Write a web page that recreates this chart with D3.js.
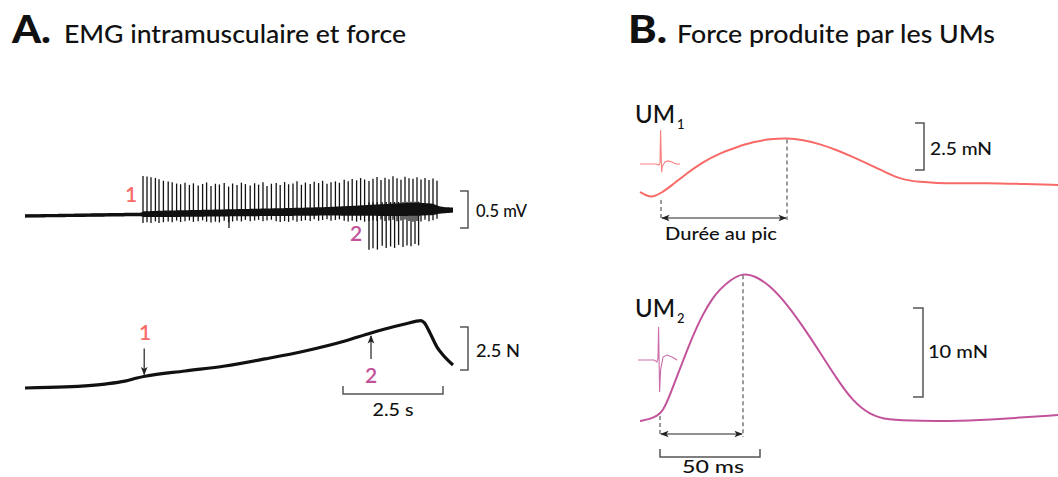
<!DOCTYPE html>
<html><head><meta charset="utf-8">
<script src="https://cdn.jsdelivr.net/npm/d3@7"></script>
<style>html,body{margin:0;padding:0;background:#fff;} svg{display:block;}</style>
</head><body>
<svg id="chart" width="1058" height="477"></svg>
<script>
// ================= DATA =================
const panelLetters = ["A.", "B."];
const panelTitles = ["EMG intramusculaire et force", "Force produite par les UMs"];

// ---- Panel A : EMG (time in s, voltage in mV) ----
const emgDriftT = [0, 10.7];
const emgDriftV = [0, 0.08];
const emgNoiseT    = [0, 2.9, 2.95, 3.5, 4.5, 5.5, 6.5, 7.5, 8.3, 8.8, 9.3, 9.8, 10.2, 10.35, 10.5, 10.7];
const emgNoiseUp   = [0.022, 0.024, 0.040, 0.047, 0.050, 0.054, 0.058, 0.064, 0.078, 0.090, 0.100, 0.108, 0.090, 0.054, 0.041, 0.034];
const emgNoiseDown = [0.022, 0.024, 0.036, 0.040, 0.042, 0.044, 0.048, 0.050, 0.058, 0.064, 0.070, 0.070, 0.064, 0.047, 0.041, 0.034];
// motor unit 1 discharges (upward spikes)
const mu1SpikeT = [2.95, 3.05, 3.15, 3.26, 3.35, 3.46, 3.58, 3.68, 3.79, 3.89, 4.00, 4.11, 4.21, 4.33, 4.44, 4.54, 4.65, 4.76,
  4.86, 4.98, 5.09, 5.19, 5.30, 5.41, 5.51, 5.63, 5.74, 5.84, 5.95, 6.05, 6.16, 6.28, 6.38, 6.49, 6.59, 6.70, 6.80, 6.91,
  7.01, 7.13, 7.23, 7.34, 7.44, 7.55, 7.65, 7.76, 7.86, 7.98, 8.08, 8.18, 8.29, 8.39, 8.49, 8.60, 8.70, 8.80, 8.90,
  9.00, 9.10, 9.20, 9.30, 9.40, 9.50, 9.60, 9.70, 9.80, 9.90, 10.00, 10.10, 10.20, 10.30];
const mu1SpikeAmp = [0.52, 0.51, 0.50, 0.49, 0.47, 0.45, 0.44, 0.43,
  0.41, 0.40, 0.42, 0.39, 0.41, 0.38, 0.40, 0.42, 0.37, 0.40, 0.39, 0.41, 0.36, 0.40, 0.38, 0.41, 0.39, 0.37, 0.40, 0.38,
  0.41, 0.36, 0.39, 0.40, 0.37, 0.41, 0.38, 0.39, 0.42, 0.37, 0.40, 0.38, 0.41, 0.39, 0.42, 0.38, 0.40, 0.41, 0.39,
  0.43, 0.41, 0.44, 0.42, 0.45, 0.43, 0.41, 0.44, 0.46, 0.42, 0.45, 0.43, 0.47, 0.44, 0.42, 0.46, 0.44, 0.43, 0.45, 0.42,
  0.44, 0.41, 0.43, 0.40];
const mu1SpikeNeg = [0.08, 0.07, 0.08, 0.06, 0.08, 0.07, 0.06, 0.07, 0.05, 0.07, 0.06, 0.05, 0.07, 0.06, 0.05, 0.07];
// motor unit 2 discharges (downward spikes)
const mu2SpikeT   = [8.60, 8.70, 8.81, 8.93, 9.03, 9.14, 9.24, 9.34, 9.45, 9.55, 9.65, 9.75, 9.84];
const mu2SpikeAmp = [0.52, 0.50, 0.52, 0.47, 0.50, 0.48, 0.50, 0.46, 0.49, 0.47, 0.48, 0.45, 0.47];
const emgArtefactT = [5.1];
const emgArtefactAmp = [0.2];

// ---- Panel A : force (time in s, force in N) ----
const forceAT = [0, 1, 2, 2.5, 2.8, 3, 4, 5, 6, 7, 8, 8.65, 9, 9.5, 9.9, 9.98, 10.125, 10.3, 10.45, 10.7];
const forceAN = [0, 0.06, 0.23, 0.40, 0.58, 0.68, 0.99, 1.28, 1.69, 2.15, 2.73, 3.20, 3.43, 3.72, 3.92, 3.80, 3.20, 2.38, 1.92, 1.34];
const markerT = [2.98, 8.65];          // recruitment of UM1 / UM2
const markerLabels = ["1", "2"];

// ---- Panel B : twitch of UM1 (ms, mN) ----
const um1T = [-10.5, -7, -4, 0, 4.5, 13, 21, 29.5, 38, 46, 54.5, 63, 71, 79.5, 88, 96, 104.5, 113, 121, 129.5, 138, 146, 163, 179.5, 198.5];
const um1F = [0, -0.21, -0.27, -0.06, 0.27, 1.01, 1.60, 2.07, 2.39, 2.66, 2.82, 2.87, 2.77, 2.55, 2.23, 1.86, 1.44, 1.01, 0.64, 0.53, 0.48, 0.46, 0.48, 0.43, 0.37];
const um1PeakT = 63;
// ---- Panel B : twitch of UM2 (ms, mN) ----
const um2T = [-10, -5, -1.5, 1.5, 5, 9, 13.5, 17.5, 21.5, 26, 30, 35.5, 41.5, 47.5, 55, 63.5, 71.5, 80, 88.5, 96.5, 105, 113.5, 130, 150, 170, 199];
const um2F = [-0.11, 0.11, 0.45, 1.01, 2.81, 5.2, 7.8, 10.0, 11.9, 13.6, 14.7, 15.8, 16.5, 16.2, 15.1, 13.0, 10.5, 7.6, 4.6, 2.1, 0.6, 0, -0.11, -0.11, 0.11, 0.56];
const um2PeakT = 41.5;
// inset action potentials (relative units)
const ap1T = [0, 8, 9.5, 10, 10.3, 10.8, 11.2, 12.5, 14, 16, 18, 20];
const ap1V = [0, 0, -0.03, 0.03, 1, -0.24, -0.06, 0.06, 0.09, 0.06, 0, 0];
const ap2T = [0, 8, 9.5, 10, 10.3, 10.8, 11.3, 12.5, 14.5, 17, 19.5];
const ap2V = [0, 0, -0.06, 0.06, 1, -0.97, -0.3, 0.09, 0.15, 0.09, 0];

// scale bar labels
const scaleLabels = { emg: "0.5 mV", forceA: "2.5 N", timeA: "2.5 s", um1: "2.5 mN", um2: "10 mN", timeB: "50 ms", peak: "Durée au pic" };
const scaleValues = { emg: 0.5, forceA: 2.5, timeA: 2.5, um1: 2.5, um2: 10, timeB: 50 };

// ================= DRAW =================
const RED = "#f86a68", PURPLE = "#c2539b", GRAY = "#555", FONT = "Lato, 'Noto Sans', sans-serif";
const svg = d3.select("#chart");
svg.append("rect").attr("width", 1058).attr("height", 477).attr("fill", "#fff");

const defs = svg.append("defs");
function mk(id, color) {
  defs.append("marker").attr("id", id).attr("viewBox", "0 0 10 10").attr("refX", 9).attr("refY", 5)
    .attr("markerWidth", 7).attr("markerHeight", 7).attr("orient", "auto-start-reverse")
    .append("path").attr("d", "M0,1 L10,5 L0,9 L2.5,5 Z").attr("fill", color);
}
mk("arr", "#222");

function txt(s, x, y, size, opt = {}) {
  const t = svg.append("text").attr("x", x).attr("y", y).attr("font-family", FONT)
    .attr("font-size", size).attr("fill", opt.fill || "#111").attr("font-weight", opt.weight || 500)
    .attr("text-anchor", opt.anchor || "start").text(s);
  if (opt.len) t.attr("textLength", opt.len).attr("lengthAdjust", "spacingAndGlyphs");
  return t;
}

// titles
txt(panelLetters[0], 12, 43, 37, { weight: 900, len: 39 });
txt(panelTitles[0], 64, 43, 25, { len: 342 });
txt(panelLetters[1], 628, 43, 37, { weight: 900, len: 39 });
txt(panelTitles[1], 677, 43, 25, { len: 318 });

// ---- Panel A scales ----
const xA = d3.scaleLinear().domain([0, 10.7]).range([25, 453]);
const yEMG = d3.scaleLinear().domain([0, 0.5]).range([216, 179]);
const yFA = d3.scaleLinear().domain([0, 2.5]).range([388, 345]);
const drift = d3.scaleLinear().domain(emgDriftT).range(emgDriftV);
const noiseUp = d3.scaleLinear().domain(emgNoiseT).range(emgNoiseUp);
const noiseDn = d3.scaleLinear().domain(emgNoiseT).range(emgNoiseDown);

// EMG noise band
const bandT = d3.range(0, 10.7001, 0.02);
svg.append("path").datum(bandT)
  .attr("d", d3.area().x(t => xA(t)).y0(t => yEMG(drift(t) - noiseDn(t))).y1(t => yEMG(drift(t) + noiseUp(t))))
  .attr("fill", "#111");
svg.append("path").datum(emgDriftT)
  .attr("d", d3.line().x(t => xA(t)).y(t => yEMG(drift(t))))
  .attr("stroke", "#111").attr("stroke-width", 2.6).attr("fill", "none");

// MU1 spikes
const g1 = svg.append("g").attr("stroke", "#111").attr("stroke-width", 1.3);
mu1SpikeT.forEach((t, i) => {
  const a = mu1SpikeAmp[i] ?? 0.4, b = drift(t);
  const n = mu1SpikeNeg[i % mu1SpikeNeg.length];
  g1.append("line").attr("x1", xA(t)).attr("x2", xA(t))
    .attr("y1", yEMG(b + a)).attr("y2", yEMG(b - noiseDn(t) - n));
});
// MU2 spikes
const g2 = svg.append("g").attr("stroke", "#111").attr("stroke-width", 1.3);
mu2SpikeT.forEach((t, i) => {
  const a = mu2SpikeAmp[i], b = drift(t);
  g2.append("line").attr("x1", xA(t)).attr("x2", xA(t))
    .attr("y1", yEMG(b + 0.12)).attr("y2", yEMG(b - a));
});
emgArtefactT.forEach((t, i) => {
  svg.append("line").attr("x1", xA(t)).attr("x2", xA(t)).attr("y1", yEMG(drift(t)))
    .attr("y2", yEMG(drift(t) - emgArtefactAmp[i])).attr("stroke", "#111").attr("stroke-width", 1.3);
});
txt(markerLabels[0], 125, 202, 21, { fill: RED, weight: 600 });
txt(markerLabels[1], 350, 241, 21, { fill: PURPLE, weight: 600 });

// EMG scale bar
function bracket(x0, x1, yTop, yBot) {
  svg.append("path").attr("d", `M${x0},${yTop} H${x1} V${yBot} H${x0}`)
    .attr("fill", "none").attr("stroke", GRAY).attr("stroke-width", 1.5);
}
{
  const h = yEMG(0) - yEMG(scaleValues.emg);
  bracket(460, 468, 191, 191 + h);
  txt(scaleLabels.emg, 476, 217, 17, { len: 51 });
}

// Force trace A
svg.append("path").datum(forceAT.map((t, i) => [t, forceAN[i]]))
  .attr("d", d3.line().x(d => xA(d[0])).y(d => yFA(d[1])).curve(d3.curveMonotoneX))
  .attr("fill", "none").attr("stroke", "#111").attr("stroke-width", 3.2).attr("stroke-linejoin", "round");
const fInterp = d3.scaleLinear().domain(forceAT).range(forceAN);
// marker arrows
{
  const x1 = xA(markerT[0]), y1 = yFA(fInterp(markerT[0]));
  svg.append("line").attr("x1", x1).attr("x2", x1).attr("y1", y1 - 28).attr("y2", y1 - 2)
    .attr("stroke", "#222").attr("stroke-width", 1.2).attr("marker-end", "url(#arr)");
  txt(markerLabels[0], x1 + 1, 340, 21, { fill: RED, weight: 600, anchor: "middle" });
  const x2 = xA(markerT[1]), y2 = yFA(fInterp(markerT[1]));
  svg.append("line").attr("x1", x2).attr("x2", x2).attr("y1", y2 + 26).attr("y2", y2 + 3)
    .attr("stroke", "#222").attr("stroke-width", 1.2).attr("marker-end", "url(#arr)");
  txt(markerLabels[1], x2, 383, 21, { fill: PURPLE, weight: 600, anchor: "middle" });
}
// Force scale bar
{
  const h = yFA(0) - yFA(scaleValues.forceA);
  bracket(460, 468, 327, 327 + h);
  txt(scaleLabels.forceA, 476, 357, 17, { len: 44 });
  const t0 = 7.95, w = xA(t0 + scaleValues.timeA) - xA(t0);
  svg.append("path").attr("d", `M${xA(t0)},386 V394 H${xA(t0) + w} V386`)
    .attr("fill", "none").attr("stroke", GRAY).attr("stroke-width", 1.5);
  txt(scaleLabels.timeA, xA(t0) + w / 2, 416, 17, { anchor: "middle", len: 41 });
}

// ---- Panel B ----
const x1B = d3.scaleLinear().domain([0, 50]).range([661, 761]);
const y1B = d3.scaleLinear().domain([0, 2.5]).range([192, 145]);
const x2B = d3.scaleLinear().domain([0, 50]).range([660, 760]);
const y2B = d3.scaleLinear().domain([0, 10]).range([420, 331]);
const smooth = d3.curveBasis;

svg.append("path").datum(um1T.map((t, i) => [t, um1F[i]]))
  .attr("d", d3.line().x(d => x1B(d[0])).y(d => y1B(d[1])).curve(smooth))
  .attr("fill", "none").attr("stroke", RED).attr("stroke-width", 2);
svg.append("path").datum(um2T.map((t, i) => [t, um2F[i]]))
  .attr("d", d3.line().x(d => x2B(d[0])).y(d => y2B(d[1])).curve(smooth))
  .attr("fill", "none").attr("stroke", PURPLE).attr("stroke-width", 2);

// inset action potentials
const apX1 = d3.scaleLinear().domain([0, 20]).range([640, 680]);
const apY1 = d3.scaleLinear().domain([0, 1]).range([164, 130]);
svg.append("path").datum(ap1T.map((t, i) => [t, ap1V[i]]))
  .attr("d", d3.line().x(d => apX1(d[0])).y(d => apY1(d[1])))
  .attr("fill", "none").attr("stroke", RED).attr("stroke-width", 1.1).attr("opacity", 0.85);
const apX2 = d3.scaleLinear().domain([0, 20]).range([638, 678]);
const apY2 = d3.scaleLinear().domain([0, 1]).range([360, 327]);
svg.append("path").datum(ap2T.map((t, i) => [t, ap2V[i]]))
  .attr("d", d3.line().x(d => apX2(d[0])).y(d => apY2(d[1])))
  .attr("fill", "none").attr("stroke", PURPLE).attr("stroke-width", 1.1).attr("opacity", 0.85);

// UM labels
txt("UM", 635, 123, 24, { len: 40 });
txt("1", 677, 129, 13);
txt("UM", 635, 317, 24, { len: 40 });
txt("2", 677, 323, 13);

// time-to-peak annotations
function dashed(x, y0, y1) {
  svg.append("line").attr("x1", x).attr("x2", x).attr("y1", y0).attr("y2", y1)
    .attr("stroke", "#666").attr("stroke-width", 1.3).attr("stroke-dasharray", "4,3");
}
{
  const xa = x1B(0), xb = x1B(um1PeakT);
  dashed(xa, 200, 220); dashed(xb, y1B(d3.max(um1F)) + 1.5, 220);
  svg.append("line").attr("x1", xa + 1).attr("x2", xb - 1).attr("y1", 218).attr("y2", 218)
    .attr("stroke", "#222").attr("stroke-width", 1.2)
    .attr("marker-start", "url(#arr)").attr("marker-end", "url(#arr)");
  txt(scaleLabels.peak, 665, 240, 17, { len: 112 });
}
{
  const xa = x2B(0), xb = x2B(um2PeakT);
  dashed(xa, 416, 437); dashed(xb, y2B(d3.max(um2F)) + 2, 437);
  svg.append("line").attr("x1", xa + 1).attr("x2", xb - 1).attr("y1", 434).attr("y2", 434)
    .attr("stroke", "#222").attr("stroke-width", 1.2)
    .attr("marker-start", "url(#arr)").attr("marker-end", "url(#arr)");
  const w = x2B(scaleValues.timeB) - x2B(0);
  svg.append("path").attr("d", `M${xa},449 V457 H${xa + w} V449`)
    .attr("fill", "none").attr("stroke", GRAY).attr("stroke-width", 1.5);
  txt(scaleLabels.timeB, xa + w / 2 + 3, 473, 17, { anchor: "middle", len: 62 });
}
// force scale bars B
{
  const h1 = y1B(0) - y1B(scaleValues.um1);
  bracket(915, 924, 123, 123 + h1);
  txt(scaleLabels.um1, 930, 155, 18, { len: 62 });
  const h2 = y2B(0) - y2B(scaleValues.um2);
  bracket(913, 923, 308, 308 + h2);
  txt(scaleLabels.um2, 928, 358, 18, { len: 60 });
}
</script>
</body></html>
